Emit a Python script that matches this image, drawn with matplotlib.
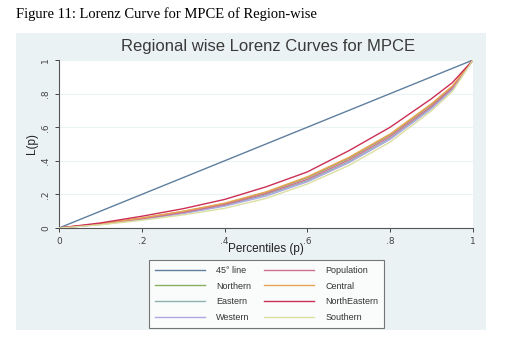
import matplotlib
matplotlib.use("Agg")
import matplotlib.pyplot as plt
from matplotlib.patches import Rectangle

# percentiles and Lorenz ordinates
pct = [0, .1, .2, .3, .4, .5, .6, .7, .8, .9, .95, 1]
northeastern = [0, .030, .070, .115, .170, .245, .334, .460, .600, .770, .865, 1]
central = [0, .025, .060, .100, .148, .215, .305, .420, .560, .740, .845, 1]
northern = [0, .025, .058, .098, .145, .212, .300, .415, .555, .735, .840, 1]
population = [0, .023, .055, .093, .140, .205, .290, .405, .545, .725, .835, 1]
eastern = [0, .022, .052, .090, .135, .198, .282, .395, .535, .718, .828, 1]
western = [0, .021, .050, .086, .130, .190, .275, .388, .528, .710, .822, 1]
southern = [0, .019, .046, .078, .117, .176, .262, .372, .512, .698, .812, 1]

ticks = [0, .2, .4, .6, .8, 1]
tick_labels = ["0", ".2", ".4", ".6", ".8", "1"]

# order = legend column order (left column first)
series = [
    ("45° line", pct, "#5F7F9E"),
    ("Northern", northern, "#8AAE62"),
    ("Eastern", eastern, "#8DB3AE"),
    ("Western", western, "#ABA8E2"),
    ("Population", population, "#D0708E"),
    ("Central", central, "#E9A452"),
    ("NorthEastern", northeastern, "#CC2F55"),
    ("Southern", southern, "#DCDFA2"),
]

W, H = 520, 359
fig = plt.figure(figsize=(W / 100, H / 100), dpi=100)
fig.patch.set_facecolor("white")

# stata-like outer panel
fig.patches.append(Rectangle((16 / W, 1 - 330 / H), 470 / W, 297 / H,
                             transform=fig.transFigure, facecolor="#EAF2F3",
                             edgecolor="none", zorder=-5))

fig.text(16 / W, 1 - 14 / H, "Figure 11: Lorenz Curve for MPCE of Region-wise",
         family="Liberation Serif", fontsize=10.5, va="center", ha="left")
fig.text(268 / W, 1 - 47 / H, "Regional wise Lorenz Curves for MPCE",
         family="Liberation Sans", fontsize=12, color="#3A3A3A",
         va="center", ha="center")

ax = fig.add_axes([59 / W, 1 - 228 / H, 414 / W, 168 / H])
ax.set_facecolor("white")
for name, ys, color in series:
    ax.plot(pct, ys, color=color, lw=1.0, label=name, zorder=3)

ax.set_xlim(0, 1)
ax.set_ylim(0, 1)
ax.set_xticks(ticks, tick_labels)
ax.set_yticks(ticks, tick_labels)
ax.tick_params(labelsize=6.5, colors="#444444", length=3, width=0.7)
ax.tick_params(axis="y", labelrotation=90)
for lbl in ax.get_yticklabels():
    lbl.set_va("center")
ax.yaxis.grid(True, color="#EAF2F3", lw=0.8)
ax.set_axisbelow(True)
for side in ("top", "right"):
    ax.spines[side].set_visible(False)
for side in ("left", "bottom"):
    ax.spines[side].set_color("#555555")
    ax.spines[side].set_linewidth(0.8)

ax.set_xlabel("Percentiles (p)", family="Liberation Sans", fontsize=8.5,
              color="#222222", labelpad=-2)
ax.set_ylabel("L(p)", family="Liberation Sans", fontsize=8.5,
              color="#222222", labelpad=2)

handles, labels = ax.get_legend_handles_labels()
leg = fig.legend(handles, labels, ncol=2, loc="center",
                 bbox_to_anchor=(266.5 / W, 1 - 294 / H),
                 prop={"family": "Liberation Sans", "size": 6.5},
                 frameon=True, fancybox=False, edgecolor="#555555",
                 handlelength=5.6, handletextpad=1.2, columnspacing=1.4,
                 labelspacing=0.75, borderpad=0.6)
leg.get_frame().set_linewidth(0.8)
for t in leg.get_texts():
    t.set_color("#333333")

fig.savefig("out.png", dpi=100)
